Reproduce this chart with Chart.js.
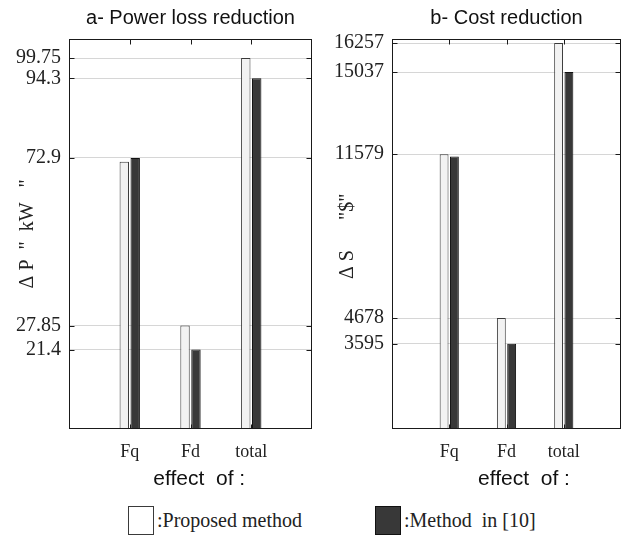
<!DOCTYPE html>
<html>
<head>
<meta charset="utf-8">
<title>Power loss and cost reduction</title>
<script src="https://cdn.jsdelivr.net/npm/chart.js@4/dist/chart.umd.min.js"></script>
<style>
    body { margin: 0; background: #fff; width: 629px; height: 541px; position: relative; overflow: hidden; }
    .panel { position: absolute; top: 0; height: 489px; }
    #lossPanel { left: 0; width: 324px; }
    #costPanel { left: 322px; width: 311px; }
    #legend { position: absolute; top: 505px; left: 0; width: 629px; height: 30px;
              font: 20px "Liberation Serif", serif; color: #222; }
    .item { position: absolute; top: 0; height: 30px; display: flex; align-items: center; white-space: pre; }
    .item:nth-child(1) { left: 128px; }
    .item:nth-child(2) { left: 375px; }
    .swatch { box-sizing: border-box; width: 26px; height: 29px; margin-right: 3px; border: 1.5px solid #555; }
</style>
</head>
<body>
<div class="panel" id="lossPanel"><canvas id="lossChart"></canvas></div>
<div class="panel" id="costPanel"><canvas id="costChart"></canvas></div>
<div id="legend"></div>

<script>
// Effect categories and values for the two methods
const categories = ['Fq', 'Fd', 'total'];

const lossProposed = [71.9, 27.85, 99.75];
const lossRef = [72.9, 21.4, 94.3];
const lossTicks = [21.4, 27.85, 72.9, 94.3, 99.75];

const costProposed = [11579, 4678, 16257];
const costRef = [11480, 3595, 15037];
const costTicks = [3595, 4678, 11579, 15037, 16257];

const seriesNames = [':Proposed method', ':Method  in [10]'];

// Empty slots at both ends so the three groups sit at 1/4, 2/4, 3/4 of the width
const slotLabels = ['', ...categories, ''];
const pad = (arr) => [null, ...arr, null];

const serif = 'Liberation Serif';
const sans = 'Liberation Sans';

// Box around the plot area with short inward tick marks on all four sides
const framePlugin = {
    id: 'frame',
    afterDatasetsDraw(chart) {
        const { ctx, chartArea: a, scales: { x, y } } = chart;
        const l = Math.round(a.left) + 0.5, r = Math.round(a.right) - 0.5;
        const t = Math.round(a.top) + 0.5, b = Math.round(a.bottom) - 0.5;
        ctx.save();
        ctx.strokeStyle = '#1a1a1a';
        ctx.lineWidth = 1;
        ctx.beginPath();
        y.ticks.forEach(function(tick) {
            const py = Math.round(y.getPixelForValue(tick.value)) + 0.5;
            ctx.moveTo(l, py); ctx.lineTo(l + 5, py);
            ctx.moveTo(r - 5, py); ctx.lineTo(r, py);
        });
        categories.forEach(function(c) {
            const px = Math.round(x.getPixelForValue(slotLabels.indexOf(c))) + 0.5;
            ctx.moveTo(px, t); ctx.lineTo(px, t + 5);
            ctx.moveTo(px, b - 4); ctx.lineTo(px, b);
        });
        ctx.stroke();
        ctx.strokeRect(l, t, r - l, b - t);
        ctx.restore();
    }
};

function makeChart(canvasId, proposed, ref, ticks, max, title, yTitle, yTitlePad, xTitle) {
    return new Chart(document.getElementById(canvasId), {
        type: 'bar',
        data: {
            labels: slotLabels,
            datasets: [
                {
                    label: seriesNames[0],
                    data: pad(proposed),
                    backgroundColor: '#f2f2f2',
                    borderColor: '#3a3a3a',
                    borderWidth: 1
                },
                {
                    label: seriesNames[1],
                    data: pad(ref),
                    backgroundColor: '#383838',
                    borderColor: '#111',
                    borderWidth: 1
                }
            ]
        },
        options: {
            responsive: true,
            maintainAspectRatio: false,
            animation: false,
            categoryPercentage: 0.36,
            barPercentage: 0.86,
            plugins: {
                legend: { display: false },
                tooltip: { enabled: false },
                title: {
                    display: true,
                    text: title,
                    fullSize: false,
                    color: '#111',
                    font: { family: sans, size: 20, weight: 'normal' },
                    padding: { top: 6, bottom: 8.5 }
                }
            },
            scales: {
                x: {
                    offset: false,
                    grid: { display: false, drawTicks: false },
                    border: { display: false },
                    ticks: {
                        autoSkip: false,
                        maxRotation: 0,
                        padding: 12,
                        color: '#222',
                        font: { family: serif, size: 18 }
                    },
                    title: {
                        display: true,
                        text: xTitle,
                        color: '#111',
                        font: { family: sans, size: 21 },
                        padding: { top: -8.5, bottom: -2.5 }
                    }
                },
                y: {
                    min: 0,
                    max: max,
                    afterBuildTicks: function(scale) {
                        scale.ticks = ticks.map(function(v) { return { value: v }; });
                    },
                    grid: { color: '#d6d6d6', drawTicks: false },
                    border: { display: false },
                    ticks: {
                        padding: 8,
                        color: '#222',
                        font: { family: serif, size: 20 },
                        callback: function(v) { return String(v); }
                    },
                    title: {
                        display: true,
                        text: yTitle,
                        color: '#222',
                        font: { family: serif, size: 20 },
                        padding: yTitlePad
                    }
                }
            }
        },
        plugins: [framePlugin]
    });
}

const lossChart = makeChart('lossChart', lossProposed, lossRef, lossTicks, 105,
    'a- Power loss reduction', 'Δ P  "  kW   "', { top: 16, bottom: -32 },
    '   effect  of :');

const costChart = makeChart('costChart', costProposed, costRef, costTicks, 16450,
    'b- Cost reduction', 'Δ S      "$" ', { top: 14, bottom: -34 },
    '      effect  of :');

// Legend below both panels, built from the dataset styles
function buildLegend(chart) {
    const box = document.getElementById('legend');
    chart.data.datasets.forEach(function(ds) {
        const item = document.createElement('div');
        item.className = 'item';
        const swatch = document.createElement('span');
        swatch.className = 'swatch';
        swatch.style.background = ds.backgroundColor === '#f2f2f2' ? '#fff' : ds.backgroundColor;
        swatch.style.borderColor = ds.borderColor;
        const text = document.createElement('span');
        text.textContent = ds.label;
        item.appendChild(swatch);
        item.appendChild(text);
        box.appendChild(item);
    });
}
buildLegend(lossChart);
</script>
</body>
</html>
